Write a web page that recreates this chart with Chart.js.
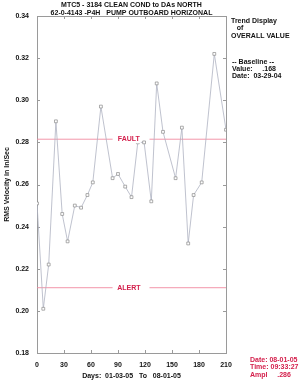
<!DOCTYPE html>
<html>
<head>
<meta charset="utf-8">
<script src="https://cdn.jsdelivr.net/npm/chart.js@4"></script>
<style>
  body { margin: 0; background: #fff; }
  canvas { display: block; }
</style>
</head>
<body>
<canvas id="trend" width="300" height="388"></canvas>
<script>
// readings (days from 01-03-05) and overall RMS velocity
const days = [0, 7, 13, 21, 28, 34, 42, 49, 56, 62, 71, 84, 90, 98, 105, 112, 119, 127, 133, 140, 154, 161, 168, 174, 183, 197, 210];
const rms = [0.251, 0.201, 0.222, 0.290, 0.246, 0.233, 0.250, 0.249, 0.255, 0.261, 0.297, 0.263, 0.265, 0.259, 0.254, 0.280, 0.280, 0.252, 0.308, 0.285, 0.263, 0.287, 0.232, 0.255, 0.261, 0.322, 0.286];
const faultLevel = 0.2815;
const alertLevel = 0.211;
// the level lines break around their label
const levelDays = [0, 84, 100, 125, 210];
const xTicks = [0, 30, 60, 90, 120, 150, 180, 210];
const yTicks = [0.18, 0.20, 0.22, 0.24, 0.26, 0.28, 0.30, 0.32, 0.34];

const titleLines = ["MTC5 - 3184 CLEAN COND to DAs NORTH", "62-0-4143 -P4H   PUMP OUTBOARD HORIZONAL"];
const sideLines = ["Trend Display", "   of", "OVERALL VALUE"];
const baseLines = ["-- Baseline --", "Value:     .168", "Date:  03-29-04"];
const lastLines = ["Date: 08-01-05", "Time: 09:33:27", "Ampl     .286"];

const RED = '#d4204c';
const AXIS = '#9a9a9a';
const FONT = '"Liberation Sans", Arial, sans-serif';

function levelLine(lvl) {
  return levelDays.map((d, i) => ({ x: d, y: i === 2 ? null : lvl }));
}

const extras = {
  id: 'extras',
  beforeDatasetsDraw(chart) {
    const ctx = chart.ctx, a = chart.chartArea;
    const xs = chart.scales.x, ys = chart.scales.y;
    ctx.save();
    ctx.strokeStyle = AXIS;
    ctx.lineWidth = 1;
    ctx.strokeRect(a.left + 0.5, a.top + 0.5, a.right - a.left, a.bottom - a.top);
    ctx.beginPath();
    yTicks.forEach(v => {
      let y = Math.round(ys.getPixelForValue(v)) + 0.5;
      ctx.moveTo(a.left, y); ctx.lineTo(a.left + 3, y);
      ctx.moveTo(a.right, y); ctx.lineTo(a.right - 3, y);
    });
    xTicks.forEach(v => {
      let x = Math.round(xs.getPixelForValue(v)) + 0.5;
      ctx.moveTo(x, a.bottom); ctx.lineTo(x, a.bottom - 3);
      ctx.moveTo(x, a.top); ctx.lineTo(x, a.top + 3);
    });
    ctx.stroke();
    ctx.restore();
  },
  afterDatasetsDraw(chart) {
    const ctx = chart.ctx;
    const xs = chart.scales.x, ys = chart.scales.y;
    ctx.save();
    ctx.font = 'bold 7px ' + FONT;
    ctx.textAlign = 'center';
    ctx.textBaseline = 'middle';
    [['FAULT', faultLevel], ['ALERT', alertLevel]].forEach(([txt, lvl]) => {
      let y = ys.getPixelForValue(lvl);
      let cx = xs.getPixelForValue(102);
      let w = ctx.measureText(txt).width + 2;
      ctx.fillStyle = '#fff';
      ctx.fillRect(cx - w / 2, y - 5, w, 9);
      ctx.fillStyle = RED;
      ctx.fillText(txt, cx, y);
    });
    ctx.restore();
  },
  afterDraw(chart) {
    const ctx = chart.ctx, a = chart.chartArea;
    ctx.save();
    ctx.font = 'bold 7px ' + FONT;
    ctx.textBaseline = 'middle';
    ctx.fillStyle = '#111';
    ctx.textAlign = 'center';
    titleLines.forEach((t, i) => ctx.fillText(t, (a.left + a.right) / 2, 5 + i * 8));
    ctx.textAlign = 'left';
    sideLines.forEach((t, i) => ctx.fillText(t, a.right + 5, 21 + i * 7.5));
    baseLines.forEach((t, i) => ctx.fillText(t, a.right + 6, 62 + i * 7));
    ctx.fillStyle = RED;
    lastLines.forEach((t, i) => ctx.fillText(t, a.right + 24, 360 + i * 7.5));
    ctx.restore();
  }
};

window.addEventListener('load', function () {
  let context = document.querySelector("#trend").getContext('2d');
  new Chart(context, {
    type: 'line',
    data: {
      datasets: [{
        data: days.map((d, i) => ({ x: d, y: rms[i] })),
        borderColor: '#aeb2c2',
        borderWidth: 0.8,
        pointStyle: 'rect',
        pointRadius: 2,
        pointBorderWidth: 0.7,
        pointBorderColor: '#8a8a8a',
        pointBackgroundColor: '#fff',
        tension: 0
      }, {
        data: levelLine(faultLevel),
        borderColor: '#f08aa0',
        borderWidth: 0.9,
        pointRadius: 0,
        spanGaps: false
      }, {
        data: levelLine(alertLevel),
        borderColor: '#f08aa0',
        borderWidth: 0.9,
        pointRadius: 0,
        spanGaps: false
      }]
    },
    options: {
      responsive: false,
      animation: false,
      layout: { padding: { left: 0, right: 74, top: 16, bottom: 0 } },
      plugins: { legend: { display: false }, tooltip: { enabled: false } },
      scales: {
        x: {
          type: 'linear',
          min: 0, max: 210,
          afterBuildTicks: s => { s.ticks = xTicks.map(v => ({ value: v })); },
          afterFit: s => { s.height = 35; },
          grid: { display: false, drawTicks: false },
          border: { display: false },
          ticks: { padding: 8, color: '#111', font: { family: FONT, size: 7, weight: 'bold' } },
          title: {
            display: true,
            text: 'Days:  01-03-05   To   08-01-05',
            color: '#111',
            font: { family: FONT, size: 7, weight: 'bold' },
            padding: { top: 0, bottom: 8 }
          }
        },
        y: {
          min: 0.18, max: 0.34,
          afterBuildTicks: s => { s.ticks = yTicks.map(v => ({ value: v })); },
          afterFit: s => { s.width = 37; },
          grid: { display: false, drawTicks: false },
          border: { display: false },
          ticks: {
            padding: 8, color: '#111',
            font: { family: FONT, size: 7, weight: 'bold' },
            callback: v => v.toFixed(2)
          },
          title: {
            display: true,
            text: 'RMS Velocity in In/Sec',
            color: '#111',
            font: { family: FONT, size: 7, weight: 'bold' },
            padding: { top: 3, bottom: 0 }
          }
        }
      }
    },
    plugins: [extras]
  });
});
</script>
</body>
</html>
